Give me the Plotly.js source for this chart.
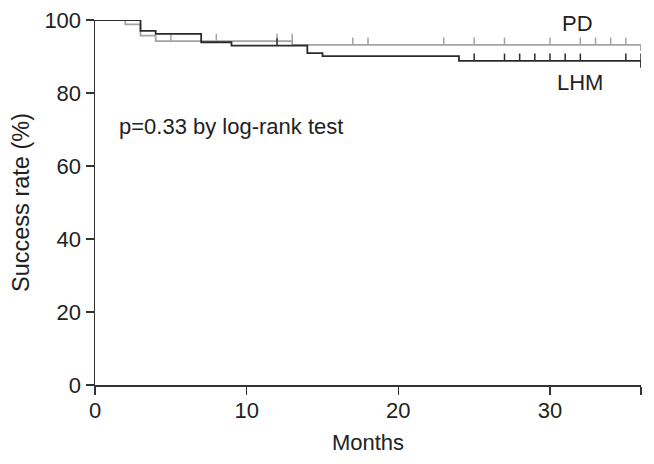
<!DOCTYPE html>
<html>
<head>
<meta charset="utf-8">
<script src="https://cdn.plot.ly/plotly-3.0.1.min.js"></script>
<style>html,body{margin:0;padding:0;background:#fff;}#chart{width:654px;height:464px;}</style>
</head>
<body>
<div id="chart"></div>
<script>
// Kaplan-Meier step data (months, success rate %)
const pdTimes = [0, 2, 3, 4, 13, 36];
const pdSurv = [100, 98.8, 95.7, 94.2, 93.2, 91.5];
const pdCensor = [5, 8, 12, 13, 17, 18, 23, 25, 27, 30, 32, 33, 34, 35];

const lhmTimes = [0, 3, 4, 7, 9, 14, 15, 24, 36];
const lhmSurv = [100, 97.0, 96.2, 93.9, 93.0, 90.9, 90.1, 88.8, 86.9];
const lhmCensor = [12, 25, 27, 28, 29, 30, 31, 32, 35, 36];

const xTickVals = [0, 10, 20, 30, 36];
const xTickText = ['0', '10', '20', '30', ''];
const yTickVals = [0, 20, 40, 60, 80, 100];

const PD_COLOR = '#a3a3a3';
const LHM_COLOR = '#2b2b2b';
const TICK_H = 2.0;
const FONT = 'Liberation Sans, Arial, Helvetica, sans-serif';

function survBefore(times, surv, t) {
  let v = surv[0];
  for (let i = 0; i < times.length; i++) {
    if (times[i] < t) v = surv[i];
  }
  return v;
}

function curve(times, surv, color) {
  return {x: times, y: surv, type: 'scatter', mode: 'lines',
    line: {shape: 'hv', color: color, width: 1.8}, hoverinfo: 'skip', showlegend: false};
}
function censors(times, surv, cens, color) {
  return {x: cens, y: cens.map(t => survBefore(times, surv, t)), type: 'scatter', mode: 'markers',
    marker: {size: 1, color: color, opacity: 0},
    error_y: {type: 'data', symmetric: false, array: cens.map(() => TICK_H),
      arrayminus: cens.map(() => 0), width: 0, thickness: 1.5, color: color},
    hoverinfo: 'skip', showlegend: false};
}

const data = [
  curve(pdTimes, pdSurv, PD_COLOR),
  censors(pdTimes, pdSurv, pdCensor, PD_COLOR),
  curve(lhmTimes, lhmSurv, LHM_COLOR),
  censors(lhmTimes, lhmSurv, lhmCensor, LHM_COLOR)
];

const axisCommon = {showgrid: false, zeroline: false, showline: true, linecolor: '#333',
  linewidth: 1.5, ticks: 'outside', ticklen: 8, tickwidth: 1.5, tickcolor: '#333',
  tickfont: {family: FONT, size: 22, color: '#222'}};

const layout = {
  width: 654, height: 464,
  margin: {l: 95, r: 13, t: 20, b: 79},
  paper_bgcolor: '#fff', plot_bgcolor: '#fff',
  font: {family: FONT, color: '#222'},
  xaxis: Object.assign({}, axisCommon, {range: [0, 36], tickmode: 'array', tickvals: xTickVals, ticktext: xTickText,
    ticklabelstandoff: -3,
    title: {text: 'Months', font: {family: FONT, size: 22, color: '#222'}, standoff: 12}}),
  yaxis: Object.assign({}, axisCommon, {range: [0, 100], tickmode: 'array', tickvals: yTickVals,
    title: {text: 'Success rate (%)', font: {family: FONT, size: 23.5, color: '#222'}, standoff: 8}}),
  annotations: [
    {text: 'PD', x: 31.8, y: 99.0, xref: 'x', yref: 'y', showarrow: false, xanchor: 'center', yanchor: 'middle',
      font: {family: FONT, size: 22, color: '#222'}},
    {text: 'LHM', x: 32.0, y: 83.0, xref: 'x', yref: 'y', showarrow: false, xanchor: 'center', yanchor: 'middle',
      font: {family: FONT, size: 22, color: '#222'}},
    {text: 'p=0.33 by log-rank test', x: 1.45, y: 70.7, xref: 'x', yref: 'y', showarrow: false, xanchor: 'left', yanchor: 'middle',
      font: {family: FONT, size: 22, color: '#222'}}
  ]
};

Plotly.newPlot('chart', data, layout, {staticPlot: true, displayModeBar: false});
</script>
</body>
</html>
